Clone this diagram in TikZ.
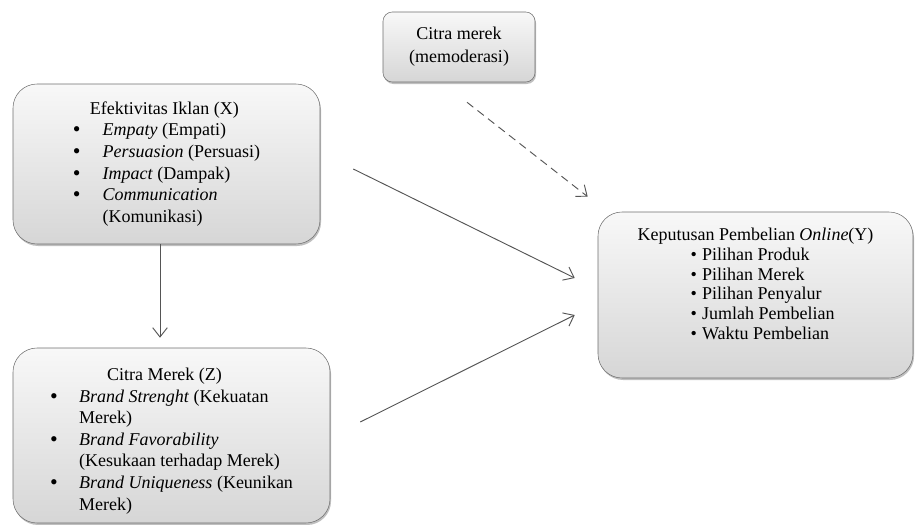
\documentclass[tikz,border=0pt]{standalone}
\usepackage{fontspec}
\setmainfont{Liberation Serif}
\usetikzlibrary{positioning,arrows.meta,shadows,calc}
\definecolor{edge}{HTML}{6E6E6E}
\definecolor{line}{HTML}{555555}
\definecolor{boxtop}{HTML}{F8F8F8}
\definecolor{boxbot}{HTML}{D6D6D6}
\newcommand{\dotitem}{\smash{\raisebox{-0.8pt}{\scalebox{1.22}{\textbullet}}}}

\begin{document}
\begin{tikzpicture}[x=0.75pt,y=-0.75pt,>={Straight Barb[length=7pt,width=11pt]},
  font=\fontsize{13.5}{16.2}\selectfont,
  box/.style={draw=edge,rounded corners=18pt,top color=boxtop,bottom color=boxbot,inner sep=0pt,
    drop shadow={shadow xshift=0.8pt,shadow yshift=-1.5pt,opacity=0.5}},
  arr/.style={->,draw=line,line width=0.7pt}]
\useasboundingbox (0,0) rectangle (915,525);
% variabel X
\node[box,minimum width=230.25pt,minimum height=120pt](iklan) at (166.5,164){\begin{tabular}{@{}l@{\hspace{16.5pt}}l@{}}
\multicolumn{2}{@{\hspace{12.75pt}}l@{}}{Efektivitas Iklan (X)}\\
\dotitem&\emph{Empaty} (Empati)\\
\dotitem&\emph{Persuasion} (Persuasi)\\
\dotitem&\emph{Impact} (Dampak)\\
\dotitem&\emph{Communication}\\
&(Komunikasi)
\end{tabular}};
% variabel Z
\node[box,minimum width=237.75pt,minimum height=131.25pt](merek) at (171.5,435.5){\begin{tabular}{@{}l@{\hspace{16pt}}l@{}}
\multicolumn{2}{@{\hspace{42.75pt}}l@{}}{\rule{0pt}{19.5pt}Citra Merek (Z)}\\
\dotitem&\emph{Brand Strenght} (Kekuatan\\
&Merek)\\
\dotitem&\emph{Brand Favorability}\\
&(Kesukaan terhadap Merek)\\
\dotitem&\emph{Brand Uniqueness} (Keunikan\\
&Merek)
\end{tabular}};
% variabel Y
\node[box,minimum width=236.25pt,minimum height=124.5pt,font=\fontsize{13.5}{14.9}\selectfont](beli) at (755.5,295){\begin{tabular}{@{}l@{\hspace{4pt}}l@{}}
\multicolumn{2}{@{}c@{}}{Keputusan Pembelian \emph{Online}(Y)}\\
\hspace{39.75pt}\textbullet&Pilihan Produk\\
\hspace{39.75pt}\textbullet&Pilihan Merek\\
\hspace{39.75pt}\textbullet&Pilihan Penyalur\\
\hspace{39.75pt}\textbullet&Jumlah Pembelian\\
\hspace{39.75pt}\textbullet&Waktu Pembelian\rule[-18pt]{0pt}{18pt}
\end{tabular}};
% moderator
\node[box,rounded corners=7pt,minimum width=114pt,minimum height=52.5pt,align=center,
  font=\fontsize{13.5}{17.25}\selectfont](moderasi) at (459,47){Citra merek\\(memoderasi)};
\draw[arr]($(iklan.south)+(-6.5,0)$)--($(iklan.south |- merek.north)+(-6.5,-10)$);
\draw[arr]($(iklan.east)+(33,5)$)--($(beli.west)+(-23,-17)$);
\draw[arr]($(merek.east)+(30,-13.5)$)--($(beli.west)+(-23,20)$);
\draw[arr,dash pattern=on 6pt off 4pt]($(moderasi.south)+(8,20)$)--($(beli.north west)+(-10,-15)$);
\end{tikzpicture}
\end{document}
